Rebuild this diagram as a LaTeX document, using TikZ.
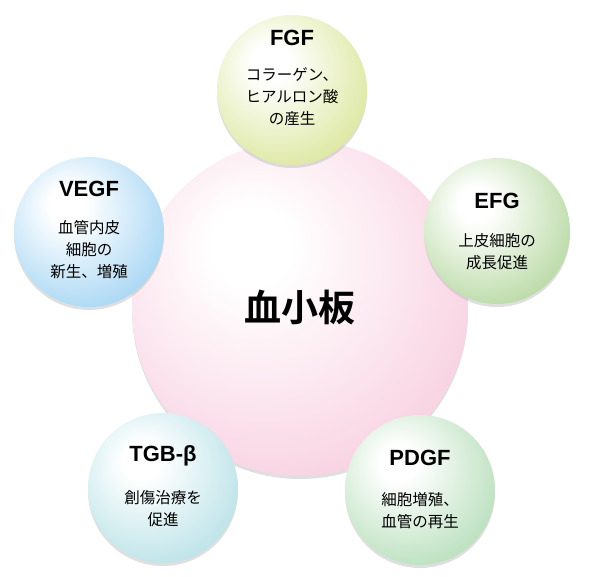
\documentclass[tikz,border=0pt]{standalone}
\usepackage{fontspec}
\newfontfamily\jp{Noto Sans CJK JP}[BoldFont={Noto Sans CJK JP Bold}]
\newfontfamily\lat{Liberation Sans}
\definecolor{cPink}{HTML}{F5B8D1}
\definecolor{cFGF}{HTML}{CADA6C}
\definecolor{cEFG}{HTML}{93C573}
\definecolor{cVEGF}{HTML}{78C0EE}
\definecolor{cPDGF}{HTML}{93CE98}
\definecolor{cTGB}{HTML}{96D3DB}
\newcommand{\mkshade}[1]{\pgfdeclareradialshading{sh#1}{\pgfpoint{-8bp}{10bp}}{color(0bp)=(white);color(6bp)=(white);color(48bp)=(c#1);color(70bp)=(c#1)}}
\mkshade{Pink}\mkshade{FGF}\mkshade{EFG}\mkshade{VEGF}\mkshade{PDGF}\mkshade{TGB}
\tikzset{
  bub/.style={circle,shading=sh#1,minimum size=150pt,inner sep=0pt,align=center,
    preaction={fill=black!25,opacity=0.5,transform canvas={yshift=-3pt}}},
  ttl/.style={font=\lat\bfseries\fontsize{22}{24}\selectfont},
  body/.style={font=\jp\fontsize{15.5}{22}\selectfont,align=center}
}
\begin{document}
\begin{tikzpicture}[x=1pt,y=-1pt]
\useasboundingbox (0,0) rectangle (600,577);
\node[bub=Pink,minimum size=336pt,font=\jp\bfseries\fontsize{37}{40}\selectfont] (p) at (300,308) {血小板};
\node[bub=FGF] (fgf) at (292,90) {};
\node[ttl] at (292,38) {FGF};
\node[body] at (292,97) {コラーゲン、\\ヒアルロン酸\\の産生};
\node[bub=EFG,minimum size=146pt] (efg) at (497,231) {};
\node[ttl] at (497,201) {EFG};
\node[body] at (497,252) {上皮細胞の\\成長促進};
\node[bub=VEGF] (vegf) at (89,232) {};
\node[ttl] at (89,189) {VEGF};
\node[body] at (89,250) {血管内皮\\細胞の\\新生、増殖};
\node[bub=PDGF] (pdgf) at (420,490) {};
\node[ttl] at (420,458) {PDGF};
\node[body] at (420,511) {細胞増殖、\\血管の再生};
\node[bub=TGB] (tgb) at (163,488) {};
\node[ttl] at (163,456) {TGB-β};
\node[body] at (163,509) {創傷治療を\\促進};
\end{tikzpicture}
\end{document}
